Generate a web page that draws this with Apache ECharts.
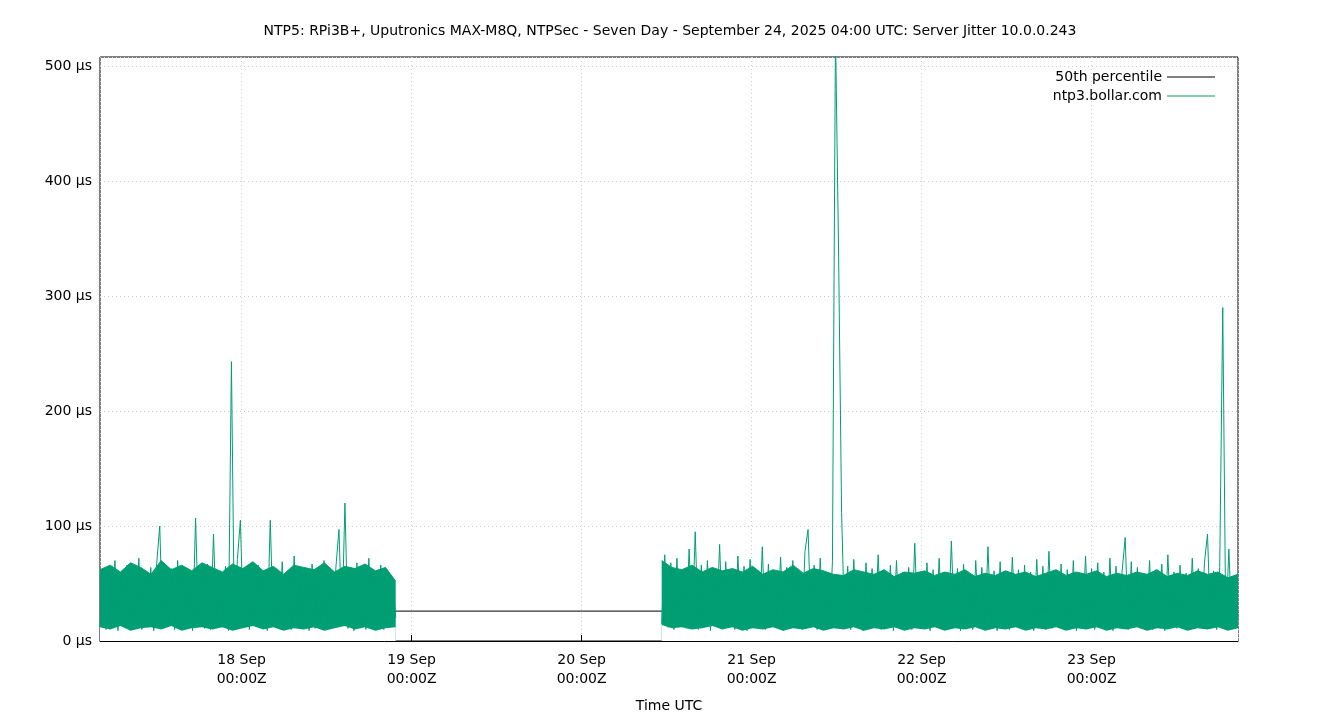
<!DOCTYPE html>
<html>
<head>
<meta charset="utf-8">
<script src="https://cdn.jsdelivr.net/npm/echarts@6/dist/echarts.min.js"></script>
<style>html,body{margin:0;background:#fff}#chart{width:1340px;height:720px}</style>
</head>
<body>
<div id="chart"></div>
<script>
// x range and segment bounds (UTC)
var xMin = Date.UTC(2025, 8, 17, 4, 0);
var xMax = Date.UTC(2025, 8, 23, 20, 40);
var seg1Start = Date.UTC(2025, 8, 17, 4, 0), seg1End = Date.UTC(2025, 8, 18, 21, 45);
var seg2Start = Date.UTC(2025, 8, 20, 11, 18), seg2End = Date.UTC(2025, 8, 23, 20, 40);
var percentile50 = 26;
var yTicks = [0, 100, 200, 300, 400, 500];

// jitter values, µs
var jitterSeg1 = [
  12,62,10,55,14,70,9,58,13,66,
  11,60,15,72,10,57,12,64,9,68,
  100,11,59,14,63,10,70,12,56,15,
  61,9,107,13,58,11,67,10,93,14,
  60,12,65,9,243,11,71,105,13,62,
  10,58,14,66,12,61,9,105,15,57,
  11,69,13,60,10,74,12,63,14,59,
  9,67,11,62,13,70,10,58,12,65,
  97,14,120,11,61,9,68,13,64,10,
  72,12,59,15,66,10,62,13,55,20
];
var jitterSeg2 = [
  15,75,12,68,10,72,14,60,11,80,
  13,95,10,66,12,70,9,63,14,84,
  11,69,13,58,10,74,12,65,9,71,
  14,62,11,82,10,67,13,60,12,73,
  9,64,11,70,14,61,10,78,97,12,
  66,10,72,13,60,11,69,530,341,112,
  12,65,10,71,13,58,9,68,11,63,
  14,75,10,62,12,66,9,70,13,60,
  11,64,10,85,12,59,14,68,9,62,
  13,72,10,60,11,87,12,63,9,67,
  14,58,10,70,12,64,11,82,13,61,
  9,69,12,57,10,73,14,62,11,66,
  13,60,9,71,12,65,10,78,11,59,
  14,67,10,62,12,70,9,58,13,74,
  11,63,10,68,12,60,14,72,9,65,
  13,61,90,10,69,12,64,11,58,14,
  70,10,62,12,67,9,75,13,60,11,
  66,12,59,10,72,14,63,11,68,93,
  12,61,10,64,290,11,80,13,57,20
];
// dense band envelope (upper / lower edge of the solid green mass)
var bandHigh1 = [62,66,60,68,64,58,70,62,66,61,68,64,60,67,63,69,61,65,58,66,64,62,68,60,65,63,67,61,64,52];
var bandLow1  = [12,10,13,9,11,12,10,13,9,11,12,10,12,9,11,13,10,12,9,11,10,12,9,11,13,10,12,9,11,12];
var bandHigh2 = [70,64,62,66,60,64,61,63,60,65,58,62,60,66,59,63,61,58,57,62,
                 60,58,62,56,60,59,61,57,60,58,62,56,59,57,61,58,60,56,59,62,
                 57,60,58,61,56,59,57,60,58,62,56,59,57,61,58,60,55,58];
var bandLow2  = [14,11,12,10,11,13,10,12,9,11,10,12,9,11,10,12,9,11,10,12,
                 9,11,10,12,9,11,10,12,9,11,10,12,9,11,10,12,9,11,10,12,
                 9,11,10,12,9,11,10,12,9,11,10,12,9,11,10,12,9,11];

function spread(vals, t0, t1) {
  var step = (t1 - t0) / (vals.length - 1);
  return vals.map(function (v, i) { return [t0 + i * step, v]; });
}
function joinSegs(a, b) {
  return a.concat([[seg1End + 1, null]]).concat(b);
}
var jitterData = joinSegs(spread(jitterSeg1, seg1Start, seg1End), spread(jitterSeg2, seg2Start, seg2End));
var highData = joinSegs(spread(bandHigh1, seg1Start, seg1End), spread(bandHigh2, seg2Start, seg2End));
var lowData = joinSegs(spread(bandLow1, seg1Start, seg1End), spread(bandLow2, seg2Start, seg2End));

var green = '#009e73';
var MON = ['Jan','Feb','Mar','Apr','May','Jun','Jul','Aug','Sep','Oct','Nov','Dec'];
var font = 'DejaVu Sans';
var chart = echarts.init(document.getElementById('chart'));
chart.setOption({
  animation: false,
  textStyle: {fontFamily: font},
  title: {
    text: 'NTP5: RPi3B+, Uputronics MAX-M8Q, NTPSec - Seven Day - September 24, 2025 04:00 UTC: Server Jitter 10.0.0.243',
    left: 'center', top: 19,
    textStyle: {fontSize: 14, fontWeight: 'normal', color: '#000', fontFamily: font}
  },
  legend: {
    orient: 'vertical', right: 120, top: 65, align: 'right',
    itemWidth: 48, itemHeight: 1, itemGap: 5,
    textStyle: {fontSize: 14, color: '#000', fontFamily: font},
    data: [
      {name: '50th percentile', icon: 'rect', itemStyle: {color: '#000'}},
      {name: 'ntp3.bollar.com', icon: 'rect', itemStyle: {color: green}}
    ]
  },
  grid: {left: 100, right: 102, top: 57, bottom: 79, show: true, borderColor: '#000', borderWidth: 1},
  xAxis: {
    type: 'time', min: xMin, max: xMax,
    minInterval: 86400000, maxInterval: 86400000,
    name: 'Time UTC', nameLocation: 'middle', nameGap: 58,
    nameTextStyle: {fontSize: 14, color: '#000'},
    axisLine: {lineStyle: {color: '#000'}},
    axisTick: {inside: true, length: 6, lineStyle: {color: '#000'}},
    axisLabel: {
      fontSize: 14, color: '#000', lineHeight: 19, margin: 10,
      formatter: function (v) {
        var d = new Date(v);
        return d.getUTCDate() + ' ' + MON[d.getUTCMonth()] + '\n00:00Z';
      }
    },
    splitLine: {show: true, lineStyle: {color: '#ccc', type: [1, 3]}}
  },
  yAxis: {
    type: 'value', min: 0, max: 508, interval: 100,
    axisLine: {lineStyle: {color: '#000'}},
    axisTick: {inside: true, length: 6, lineStyle: {color: '#000'}},
    axisLabel: {
      fontSize: 14, color: '#000',
      formatter: function (v) { return yTicks.indexOf(v) >= 0 ? v + ' µs' : ''; }
    },
    splitLine: {show: true, lineStyle: {color: '#ccc', type: [1, 3]}}
  },
  series: [
    {
      name: '50th percentile', type: 'line', symbol: 'none', z: 1,
      lineStyle: {color: '#000', width: 1}, itemStyle: {color: '#000'},
      data: [[xMin, percentile50], [xMax, percentile50]]
    },
    {
      name: 'band high', type: 'line', symbol: 'none', z: 2, silent: true,
      connectNulls: false,
      lineStyle: {color: green, width: 1},
      areaStyle: {color: green, opacity: 1, origin: 'start'},
      data: highData
    },
    {
      name: 'band low', type: 'line', symbol: 'none', z: 3, silent: true,
      connectNulls: false,
      lineStyle: {width: 0},
      areaStyle: {color: '#fff', opacity: 1, origin: 'start'},
      data: lowData
    },
    {
      name: 'ntp3.bollar.com', type: 'line', symbol: 'none', z: 4, clip: true,
      connectNulls: false,
      lineStyle: {color: green, width: 1}, itemStyle: {color: green},
      data: jitterData
    }
  ]
});
</script>
</body>
</html>
